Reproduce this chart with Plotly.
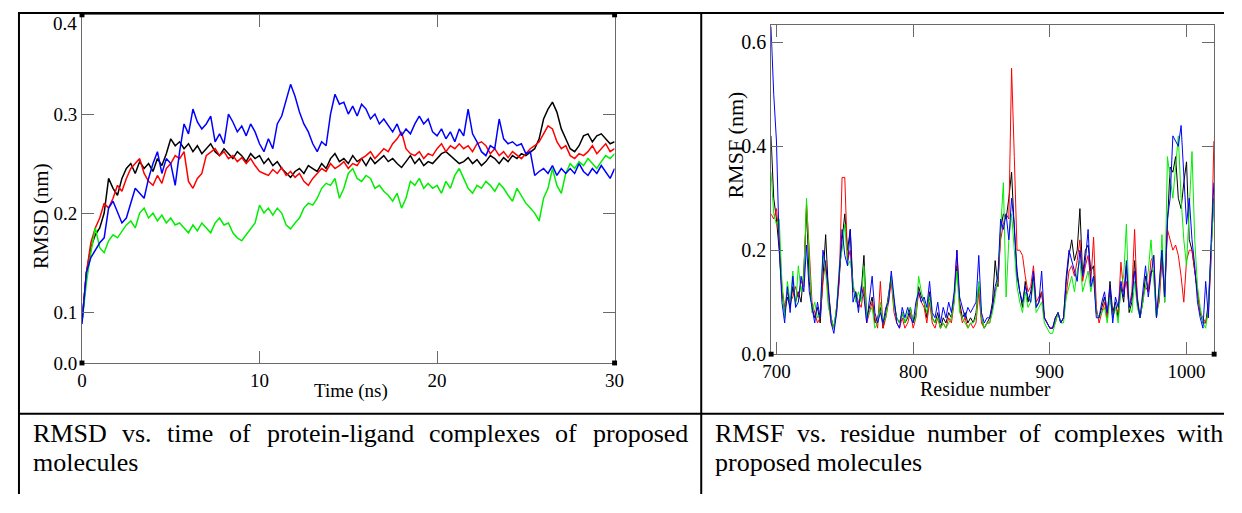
import plotly.graph_objects as go

# the page keeps an 8 px body margin, so the figure sits at (8, 8)
OX, OY = 8, 8
W, H = 1242 - 2 * OX, 513 - 2 * OY
SERIF = "Liberation Serif, Times New Roman, serif"

# ---------------- RMSD data (time step 0.25 ns, 0..30 ns) ----------------
rmsd_black = [
    0.09, 0.14, 0.165, 0.178, 0.185, 0.2, 0.235, 0.225, 0.218, 0.235,
    0.245, 0.25, 0.24, 0.252, 0.245, 0.25, 0.242, 0.255, 0.248, 0.26,
    0.275, 0.268, 0.272, 0.265, 0.27, 0.262, 0.268, 0.26, 0.265, 0.27,
    0.262, 0.258, 0.265, 0.26, 0.255, 0.262, 0.258, 0.252, 0.26, 0.255,
    0.258, 0.25, 0.255, 0.248, 0.252, 0.245, 0.24, 0.236, 0.242, 0.245,
    0.24, 0.248, 0.245, 0.242, 0.25, 0.245, 0.255, 0.26, 0.252, 0.255,
    0.25, 0.258, 0.252, 0.255, 0.248, 0.256, 0.25, 0.254, 0.258, 0.252,
    0.255, 0.25, 0.246, 0.252, 0.258, 0.25, 0.255, 0.248, 0.252, 0.25,
    0.255, 0.26, 0.262, 0.258, 0.255, 0.25, 0.252, 0.256, 0.25, 0.254,
    0.248, 0.252, 0.258, 0.255, 0.25, 0.256, 0.252, 0.258, 0.255, 0.26,
    0.258, 0.262, 0.265, 0.275, 0.295, 0.305, 0.312, 0.302, 0.285, 0.275,
    0.265, 0.262, 0.268, 0.278, 0.28, 0.272, 0.278, 0.28, 0.275, 0.27,
    0.272,
]
rmsd_red = [
    0.09, 0.14, 0.17, 0.185, 0.195, 0.21, 0.205, 0.215, 0.228, 0.222,
    0.235, 0.245, 0.25, 0.255, 0.24, 0.232, 0.228, 0.238, 0.23, 0.245,
    0.25, 0.258, 0.255, 0.262, 0.232, 0.225, 0.235, 0.24, 0.258, 0.262,
    0.265, 0.258, 0.262, 0.255, 0.258, 0.252, 0.256, 0.25, 0.255, 0.248,
    0.242, 0.24, 0.238, 0.244, 0.24, 0.246, 0.238, 0.242, 0.236, 0.24,
    0.232, 0.228, 0.235, 0.24, 0.245, 0.242, 0.25, 0.245, 0.248, 0.252,
    0.245, 0.25, 0.248, 0.255, 0.258, 0.262, 0.255, 0.26, 0.265, 0.262,
    0.27, 0.275, 0.282, 0.265, 0.26, 0.258, 0.262, 0.255, 0.26, 0.258,
    0.265, 0.27, 0.262, 0.268, 0.265, 0.27, 0.265, 0.268, 0.262, 0.27,
    0.272, 0.268, 0.26, 0.265, 0.258, 0.262, 0.256, 0.262, 0.258, 0.255,
    0.26, 0.265, 0.268, 0.272, 0.28, 0.288, 0.285, 0.272, 0.265, 0.268,
    0.258, 0.255, 0.26, 0.258, 0.262, 0.268, 0.26, 0.265, 0.27, 0.262,
    0.265,
]
rmsd_green = [
    0.09, 0.13, 0.16, 0.185, 0.165, 0.16, 0.172, 0.178, 0.175, 0.182,
    0.188, 0.192, 0.185, 0.2, 0.205, 0.195, 0.2, 0.192, 0.198, 0.19,
    0.195, 0.188, 0.19, 0.185, 0.18, 0.188, 0.182, 0.19, 0.185, 0.18,
    0.19, 0.195, 0.188, 0.19, 0.18, 0.175, 0.172, 0.178, 0.185, 0.19,
    0.208, 0.2, 0.205, 0.198, 0.205, 0.2, 0.188, 0.184, 0.19, 0.195,
    0.205, 0.21, 0.208, 0.215, 0.225, 0.23, 0.228, 0.235, 0.215, 0.225,
    0.24, 0.245, 0.235, 0.232, 0.238, 0.235, 0.225, 0.228, 0.222, 0.218,
    0.212, 0.22, 0.205, 0.215, 0.232, 0.228, 0.235, 0.225, 0.23, 0.225,
    0.228, 0.22, 0.232, 0.225, 0.238, 0.245, 0.235, 0.225, 0.22, 0.228,
    0.225, 0.232, 0.228, 0.222, 0.23, 0.225, 0.218, 0.212, 0.225, 0.218,
    0.21, 0.205, 0.2, 0.192, 0.215, 0.225, 0.245, 0.228, 0.22, 0.24,
    0.25, 0.245, 0.252, 0.248, 0.255, 0.25, 0.245, 0.252, 0.258, 0.255,
    0.26,
]
rmsd_blue = [
    0.088, 0.14, 0.155, 0.162, 0.17, 0.175, 0.205, 0.212, 0.2, 0.19,
    0.195, 0.21, 0.225, 0.22, 0.215, 0.235, 0.25, 0.262, 0.24, 0.255,
    0.25, 0.228, 0.262, 0.29, 0.28, 0.305, 0.292, 0.285, 0.29, 0.298,
    0.272, 0.28, 0.27, 0.3, 0.292, 0.282, 0.288, 0.278, 0.29, 0.282,
    0.27, 0.262, 0.275, 0.265, 0.29, 0.298, 0.315, 0.33, 0.318, 0.302,
    0.29, 0.282, 0.27, 0.262, 0.272, 0.268, 0.3, 0.32, 0.31, 0.312,
    0.3, 0.308, 0.298, 0.31, 0.305, 0.295, 0.3, 0.29, 0.295, 0.288,
    0.282, 0.29, 0.278, 0.285, 0.28, 0.29, 0.298, 0.29, 0.295, 0.282,
    0.278, 0.285, 0.275, 0.282, 0.272, 0.285, 0.278, 0.305, 0.28, 0.272,
    0.262, 0.258, 0.268, 0.265, 0.295, 0.275, 0.27, 0.272, 0.268, 0.27,
    0.26, 0.262, 0.238, 0.242, 0.245, 0.24, 0.248, 0.238, 0.245, 0.24,
    0.245, 0.24, 0.25, 0.242, 0.238, 0.245, 0.24, 0.248, 0.242, 0.235,
    0.245,
]
rmsd_time = [0.25 * i for i in range(len(rmsd_black))]

# ---------------- RMSF data (residues 696..1020, step 2) ----------------
residues = list(range(696, 1021, 2))
rmsf_black = [
    0.42, 0.3, 0.26, 0.2, 0.12, 0.08, 0.11, 0.09, 0.13, 0.1,
    0.12, 0.1, 0.16, 0.28, 0.14, 0.09, 0.07, 0.09, 0.06, 0.15,
    0.23, 0.12, 0.07, 0.05, 0.09, 0.15, 0.22, 0.27, 0.2, 0.24,
    0.13, 0.11, 0.09, 0.12, 0.19, 0.07, 0.09, 0.11, 0.06, 0.07,
    0.09, 0.05, 0.08, 0.12, 0.15, 0.1, 0.07, 0.06, 0.08, 0.06,
    0.07, 0.09, 0.06, 0.08, 0.13, 0.11, 0.1, 0.07, 0.12, 0.07,
    0.06, 0.08, 0.05, 0.07, 0.06, 0.08, 0.07, 0.11, 0.17, 0.1,
    0.07, 0.08, 0.06, 0.07, 0.06, 0.08, 0.13, 0.07, 0.05, 0.06,
    0.07, 0.1, 0.18, 0.13, 0.24, 0.27, 0.26, 0.3, 0.35, 0.24,
    0.16, 0.12, 0.09, 0.14, 0.1, 0.12, 0.15, 0.09, 0.1, 0.12,
    0.07, 0.06, 0.05, 0.05, 0.07, 0.08, 0.06, 0.07, 0.14, 0.19,
    0.22, 0.18, 0.2, 0.28, 0.15, 0.2, 0.21, 0.16, 0.17, 0.08,
    0.07, 0.09, 0.11, 0.07, 0.14, 0.08, 0.1, 0.07, 0.13, 0.1,
    0.17, 0.08, 0.1, 0.18, 0.11, 0.07, 0.1, 0.15, 0.12, 0.16,
    0.16, 0.07, 0.12, 0.2, 0.1, 0.25, 0.36, 0.35, 0.38, 0.3,
    0.28, 0.33, 0.37, 0.22, 0.2, 0.16, 0.12, 0.08, 0.06, 0.06,
    0.1, 0.2, 0.3,
]
rmsf_red = [
    0.27, 0.26, 0.28, 0.22, 0.13, 0.09, 0.12, 0.1, 0.11, 0.13,
    0.11, 0.14, 0.13, 0.29, 0.2, 0.1, 0.08, 0.06, 0.07, 0.14,
    0.18, 0.1, 0.06, 0.05, 0.08, 0.14, 0.34, 0.34, 0.18, 0.2,
    0.12, 0.12, 0.1, 0.09, 0.13, 0.06, 0.08, 0.1, 0.07, 0.05,
    0.14, 0.05, 0.07, 0.1, 0.14, 0.08, 0.06, 0.05, 0.07, 0.05,
    0.06, 0.08, 0.05, 0.07, 0.12, 0.1, 0.09, 0.06, 0.1, 0.06,
    0.05, 0.07, 0.05, 0.06, 0.05, 0.07, 0.06, 0.1, 0.2, 0.09,
    0.06, 0.07, 0.05, 0.06, 0.05, 0.06, 0.12, 0.06, 0.05, 0.06,
    0.06, 0.09, 0.12, 0.14, 0.22, 0.25, 0.27, 0.26, 0.55, 0.38,
    0.2, 0.2, 0.19, 0.15, 0.12, 0.13, 0.17, 0.1, 0.11, 0.12,
    0.07, 0.06, 0.05, 0.05, 0.06, 0.08, 0.06, 0.07, 0.12, 0.16,
    0.17, 0.15, 0.18, 0.22, 0.14, 0.17, 0.19, 0.14, 0.225, 0.09,
    0.06, 0.08, 0.1, 0.07, 0.12, 0.07, 0.09, 0.08, 0.177, 0.12,
    0.14, 0.09, 0.12, 0.24, 0.1, 0.07, 0.11, 0.13, 0.12, 0.18,
    0.19, 0.08, 0.1, 0.18, 0.12, 0.24, 0.22, 0.2, 0.21, 0.19,
    0.15, 0.1, 0.18, 0.2, 0.2, 0.16, 0.11, 0.08, 0.07, 0.06,
    0.08, 0.18, 0.41,
]
rmsf_green = [
    0.35, 0.27, 0.25, 0.26, 0.14, 0.07, 0.14, 0.1, 0.16, 0.09,
    0.17, 0.12, 0.15, 0.3, 0.18, 0.08, 0.1, 0.07, 0.08, 0.19,
    0.16, 0.09, 0.07, 0.05, 0.09, 0.17, 0.2, 0.25, 0.17, 0.18,
    0.14, 0.1, 0.12, 0.1, 0.17, 0.07, 0.08, 0.09, 0.05, 0.06,
    0.1, 0.06, 0.07, 0.11, 0.15, 0.09, 0.07, 0.06, 0.08, 0.06,
    0.08, 0.09, 0.06, 0.07, 0.15, 0.12, 0.1, 0.08, 0.11, 0.07,
    0.06, 0.07, 0.05, 0.06, 0.05, 0.06, 0.07, 0.1, 0.16, 0.08,
    0.07, 0.06, 0.05, 0.06, 0.06, 0.07, 0.14, 0.07, 0.05, 0.06,
    0.06, 0.08, 0.11, 0.15, 0.25, 0.33, 0.11, 0.22, 0.27, 0.2,
    0.13, 0.1, 0.08, 0.12, 0.09, 0.1, 0.14, 0.08, 0.09, 0.1,
    0.06, 0.05, 0.04, 0.04, 0.06, 0.08, 0.06, 0.06, 0.11, 0.13,
    0.15, 0.12, 0.16, 0.18, 0.12, 0.14, 0.16, 0.12, 0.15, 0.08,
    0.07, 0.08, 0.09, 0.06, 0.11, 0.07, 0.09, 0.06, 0.13, 0.15,
    0.25, 0.09, 0.08, 0.14, 0.09, 0.07, 0.1, 0.13, 0.16, 0.22,
    0.15, 0.07, 0.11, 0.23, 0.1, 0.38, 0.34, 0.3, 0.36, 0.42,
    0.3, 0.22, 0.17, 0.28, 0.39, 0.22, 0.13, 0.09, 0.06, 0.05,
    0.09, 0.2, 0.3,
]
rmsf_blue = [
    0.63, 0.5, 0.41, 0.21, 0.1, 0.06, 0.13, 0.08, 0.15, 0.09,
    0.1, 0.15, 0.12, 0.21, 0.12, 0.09, 0.06, 0.1, 0.07, 0.2,
    0.17, 0.13, 0.06, 0.04, 0.08, 0.16, 0.24, 0.19, 0.17, 0.24,
    0.1, 0.12, 0.08, 0.13, 0.11, 0.06, 0.1, 0.15, 0.08, 0.06,
    0.08, 0.06, 0.09, 0.1, 0.16, 0.11, 0.06, 0.05, 0.09, 0.07,
    0.09, 0.07, 0.06, 0.1, 0.12, 0.1, 0.11, 0.09, 0.14, 0.08,
    0.07, 0.1, 0.06, 0.09, 0.07, 0.1, 0.08, 0.12, 0.2, 0.11,
    0.09, 0.07, 0.09, 0.08, 0.09, 0.1, 0.19, 0.08, 0.06, 0.07,
    0.07, 0.09, 0.13, 0.15, 0.26, 0.24, 0.27, 0.22, 0.3, 0.25,
    0.15, 0.12, 0.1, 0.13, 0.11, 0.1, 0.16, 0.09, 0.1, 0.16,
    0.07, 0.06, 0.05, 0.05, 0.07, 0.08, 0.06, 0.07, 0.15, 0.2,
    0.18, 0.16, 0.14, 0.2, 0.15, 0.18, 0.24, 0.13, 0.15, 0.07,
    0.07, 0.1, 0.12, 0.08, 0.13, 0.06, 0.11, 0.09, 0.14, 0.11,
    0.18, 0.09, 0.11, 0.16, 0.1, 0.07, 0.12, 0.17, 0.11, 0.15,
    0.19, 0.07, 0.13, 0.2, 0.11, 0.26, 0.3, 0.42, 0.41, 0.4,
    0.44, 0.35, 0.25, 0.3, 0.22, 0.17, 0.1, 0.07, 0.05, 0.14,
    0.07, 0.22, 0.33,
]

rmsd_ticks = [0.0486, 0.1, 0.2, 0.3, 0.4]
rmsd_ticktext = ["0.0", "0.1", "0.2", "0.3", ""]   # top label drawn a bit lower, as in Grace
rmsf_ticks = [0.0, 0.2, 0.4, 0.6]
rmsf_ticktext = ["0.0", "0.2", "0.4", "0.6"]

caption_left = ["RMSD vs. time of protein-ligand complexes of proposed", "molecules"]
caption_right = ["RMSF vs. residue number of complexes with", "proposed molecules"]

COLORS = {"black": "#000000", "red": "#ff0000", "green": "#00ee00", "blue": "#0000ff"}

for arr in (rmsd_red, rmsd_green, rmsd_blue):
    assert len(arr) == len(rmsd_black)
for arr in (rmsf_black, rmsf_red, rmsf_green, rmsf_blue):
    assert len(arr) == len(residues), len(arr)


def px(x):
    return (x - OX) / W


def py(y):
    return 1 - (y - OY) / H


fig = go.Figure()
for name, ys in (("black", rmsd_black), ("red", rmsd_red), ("green", rmsd_green), ("blue", rmsd_blue)):
    fig.add_trace(go.Scatter(x=rmsd_time, y=ys, mode="lines", xaxis="x", yaxis="y",
                             line=dict(color=COLORS[name], width=1.5), hoverinfo="skip"))
for name, ys in (("black", rmsf_black), ("red", rmsf_red), ("green", rmsf_green), ("blue", rmsf_blue)):
    fig.add_trace(go.Scatter(x=residues, y=ys, mode="lines", xaxis="x2", yaxis="y2",
                             line=dict(color=COLORS[name], width=1), hoverinfo="skip"))

axcommon = dict(showgrid=False, zeroline=False, showline=True, mirror="ticks",
                linecolor="#6a6a6a", linewidth=1, ticks="inside", ticklen=12,
                tickcolor="#6a6a6a", tickwidth=1, ticklabeloverflow="allow")

fig.update_layout(
    width=W, height=H, autosize=False, margin=dict(l=0, r=0, t=0, b=0),
    paper_bgcolor="white", plot_bgcolor="white", showlegend=False,
    xaxis=dict(domain=[px(74), px(615)], range=[0, 30], tickvals=[0, 10, 20, 30],
               tickfont=dict(family=SERIF, size=19, color="black"), anchor="y", **axcommon),
    yaxis=dict(domain=[py(371), py(15)], range=[0.0486, 0.4002], tickvals=rmsd_ticks,
               ticktext=rmsd_ticktext, tickfont=dict(family=SERIF, size=19, color="black"),
               anchor="x", **axcommon),
    xaxis2=dict(domain=[px(774), px(1224)], range=[696.1, 1020.2], tickvals=[700, 800, 900, 1000],
                tickfont=dict(family=SERIF, size=19, color="black"), anchor="y2", **axcommon),
    yaxis2=dict(domain=[py(362), py(25)], range=[0, 0.634], tickvals=rmsf_ticks,
                ticktext=rmsf_ticktext, tickfont=dict(family=SERIF, size=20, color="black"),
                anchor="x2", **axcommon),
)

shapes = []
# table lines
for (x0, y0, x1, y1) in ((10, 13, 1234, 13), (10, 423, 1234, 423), (10, 12, 10, OY + H), (703, 12, 703, OY + H)):
    shapes.append(dict(type="line", xref="paper", yref="paper", x0=px(x0), y0=py(y0),
                       x1=px(x1), y1=py(y1), line=dict(color="black", width=2)))
# Grace-style corner squares
for (cx, cy) in ((74, 15), (615, 15), (74, 371), (615, 371), (774, 362), (1224, 362)):
    shapes.append(dict(type="rect", xref="paper", yref="paper", x0=px(cx - 2.5), x1=px(cx + 2.5),
                       y0=py(cy + 2.5), y1=py(cy - 2.5), fillcolor="black", line=dict(width=0)))
fig.update_layout(shapes=shapes)

ann = []


def text(x, y, s, size, angle=0, xanchor="center"):
    ann.append(dict(x=px(x), y=py(y), xref="paper", yref="paper", text=s, showarrow=False,
                    textangle=angle, xanchor=xanchor, yanchor="middle", borderpad=0, borderwidth=0,
                    font=dict(family=SERIF, size=size, color="black")))


text(69, 24, "0.4", 19, xanchor="right")
text(347, 400, "Time (ns)", 19)
text(992, 398, "Residue number", 20)
text(33, 221, "RMSD (nm)", 21, angle=-90)
text(738, 148, "RMSF (nm)", 22, angle=-90)

# caption lines, justified word by word (Times metrics)
TW = {" ": 250, ".": 250, "-": 333, "R": 667, "M": 889, "S": 556, "D": 722, "F": 556,
      "a": 444, "b": 500, "c": 444, "d": 500, "e": 444, "f": 333, "g": 500, "h": 500,
      "i": 278, "l": 278, "m": 778, "n": 500, "o": 500, "p": 500, "r": 333, "s": 389,
      "t": 278, "u": 500, "v": 500, "w": 722, "x": 500}
CAP = 26


def justified(line, x0, x1, yc):
    words = line.split(" ")
    widths = [sum(TW.get(c, 500) for c in w) * CAP / 1000 for w in words]
    gap = (x1 - x0 - sum(widths)) / (len(words) - 1)
    x = x0
    for w, wd in zip(words, widths):
        text(x, yc, w, CAP, xanchor="left")
        x += wd + gap


justified(caption_left[0], 24, 688, 443)
text(24, 473, caption_left[1], CAP, xanchor="left")
justified(caption_right[0], 717, 1232, 443)
text(717, 473, caption_right[1], CAP, xanchor="left")

fig.update_layout(annotations=ann)
fig.write_html("out.html", config={"displayModeBar": False})
